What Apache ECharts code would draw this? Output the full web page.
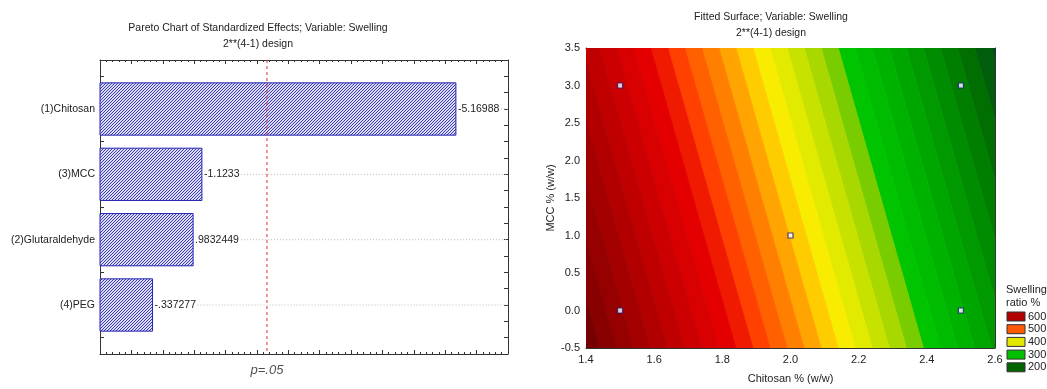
<!DOCTYPE html>
<html>
<head>
<meta charset="utf-8">
<script src="https://cdn.jsdelivr.net/npm/echarts@6/dist/echarts.min.js"></script>
<style>
html,body{margin:0;padding:0;background:#fff;}
#chart{width:1047px;height:389px;}
</style>
</head>
<body>
<div id="chart"></div>
<script>
// ---------- DATA ----------
const categories = ['(1)Chitosan', '(3)MCC', '(2)Glutaraldehyde', '(4)PEG'];
const effects = [-5.16988, -1.1233, 0.9832449, -0.337277];
const effectLabels = ['-5.16988', '-1.1233', '.9832449', '-.337277'];
const pCritical = 2.16;

const designChitosan = [1.5, 2.5, 2.0, 1.5, 2.5];
const designMCC = [3.0, 3.0, 1.0, 0.0, 0.0];
const surfaceCoefficients = [1243.5, -400, -25];
const contourLevels = [100, 120, 140, 160, 180, 200, 220, 240, 260, 280, 300, 320, 340, 360, 380, 400,
                       420, 440, 460, 480, 500, 520, 540, 560, 580, 600, 620, 640, 660, 680, 700];
const legendLevels = ['600', '500', '400', '300', '200'];

// ---------- STYLES ----------
const contourColors = ['#004c22', '#005e0c', '#006e00', '#007e00', '#008c00', '#009a00', '#00a600', '#00b200',
  '#00bc00', '#00c400', '#78cc00', '#a8d800', '#c8e200', '#e2ea00', '#f8ec00', '#ffcc00',
  '#ffa400', '#ff8000', '#ff6000', '#ff4000', '#f01a00', '#e40000', '#d80000', '#cc0000', '#c00000',
  '#b20000', '#a40000', '#960000', '#880000', '#760000'];
const legendColors = ['#b00000', '#ff5a00', '#e4e800', '#00c000', '#006400'];
const FONT = '"Liberation Sans", Arial, sans-serif';
const TXT = '#222';
const AX = '#333';

// hatch pattern
const pc = document.createElement('canvas');
pc.width = 3; pc.height = 3;
const g = pc.getContext('2d');
g.fillStyle = '#dcdcf6'; g.fillRect(0, 0, 3, 3);
g.strokeStyle = '#3a3ab6'; g.lineWidth = 1;
for (let k = -3; k <= 3; k += 3) { g.beginPath(); g.moveTo(k, 3); g.lineTo(k + 3, 0); g.stroke(); }
const hatch = { image: pc, repeat: 'repeat' };

const chart = echarts.init(document.getElementById('chart'), null, { renderer: 'canvas' });

const leftX = { min: -0.5, max: 6, interval: 0.5 };
const leftY = { min: 0.25, max: 4.75, interval: 0.25 };

function frameAxis(extra) {
  return Object.assign({
    axisLine: { show: true, onZero: false, lineStyle: { color: AX, width: 1 } },
    axisTick: { show: true, inside: true, length: 4, lineStyle: { color: AX } },
    splitLine: { show: false },
    axisLabel: { show: false }
  }, extra);
}

function S(x, y) { return surfaceCoefficients[0] + surfaceCoefficients[1] * x + surfaceCoefficients[2] * y; }
function clipPoly(poly, f) {
  const out = [];
  for (let i = 0; i < poly.length; i++) {
    const P = poly[i], Q = poly[(i + 1) % poly.length];
    const fp = f(P), fq = f(Q);
    if (fp >= 0) out.push(P);
    if ((fp >= 0) !== (fq >= 0)) {
      const t = fp / (fp - fq);
      out.push([P[0] + t * (Q[0] - P[0]), P[1] + t * (Q[1] - P[1])]);
    }
  }
  return out;
}

const option = {
  animation: false,
  backgroundColor: '#fff',
  textStyle: { fontFamily: FONT },
  grid: [
    { left: 100, top: 60, width: 408, height: 294 },
    { left: 586, top: 48, width: 409, height: 303 }
  ],
  xAxis: [
    frameAxis({ type: 'value', gridIndex: 0, position: 'bottom', min: leftX.min, max: leftX.max, interval: leftX.interval,
      minorTick: { show: true, splitNumber: 5, length: 2, lineStyle: { color: AX } } }),
    frameAxis({ type: 'value', gridIndex: 0, position: 'top', min: leftX.min, max: leftX.max, interval: leftX.interval,
      minorTick: { show: true, splitNumber: 5, length: 2, lineStyle: { color: AX } } }),
    frameAxis({ type: 'value', gridIndex: 1, position: 'bottom', min: 1.4, max: 2.6, interval: 0.2,
      axisLabel: { show: true, color: TXT, fontSize: 11, fontFamily: FONT, margin: 6, formatter: v => v.toFixed(1) },
      name: 'Chitosan % (w/w)', nameLocation: 'middle', nameGap: 25,
      nameTextStyle: { color: TXT, fontSize: 11, fontFamily: FONT } }),
    frameAxis({ type: 'value', gridIndex: 1, position: 'top', min: 1.4, max: 2.6, interval: 0.2 })
  ],
  yAxis: [
    frameAxis({ type: 'value', gridIndex: 0, position: 'left', inverse: true, min: leftY.min, max: leftY.max, interval: leftY.interval,
      axisLabel: { show: true, color: TXT, fontSize: 10.5, fontFamily: FONT, margin: 5,
        formatter: v => (Math.abs(v - Math.round(v)) < 1e-9 && v >= 1 && v <= categories.length) ? categories[Math.round(v) - 1] : '' } }),
    frameAxis({ type: 'value', gridIndex: 0, position: 'right', inverse: true, min: leftY.min, max: leftY.max, interval: leftY.interval }),
    frameAxis({ type: 'value', gridIndex: 1, position: 'left', min: -0.5, max: 3.5, interval: 0.5,
      axisLabel: { show: true, color: TXT, fontSize: 11, fontFamily: FONT, margin: 6, formatter: v => v.toFixed(1) },
      name: 'MCC % (w/w)', nameLocation: 'middle', nameGap: 30, nameRotate: 90,
      nameTextStyle: { color: TXT, fontSize: 11, fontFamily: FONT } }),
    frameAxis({ type: 'value', gridIndex: 1, position: 'right', min: -0.5, max: 3.5, interval: 0.5 })
  ],
  series: [
    {
      type: 'custom', xAxisIndex: 0, yAxisIndex: 0, z: 3,
      data: effects.map((v, i) => [Math.abs(v), i + 1, i]),
      encode: { x: 0, y: 1 },
      renderItem: function (params, api) {
        const v = api.value(0), c = api.value(1), i = api.value(2);
        const a = api.coord([leftX.min, c - 0.4]);
        const b = api.coord([v, c + 0.4]);
        const edge = api.coord([leftX.max, c]);
        const y0 = Math.min(a[1], b[1]), h = Math.abs(b[1] - a[1]);
        return {
          type: 'group',
          children: [
            { type: 'line', shape: { x1: b[0], y1: edge[1], x2: edge[0], y2: edge[1] },
              style: { stroke: '#b8b8b8', lineWidth: 1, lineDash: [1, 2] } },
            { type: 'rect', shape: { x: a[0], y: y0, width: b[0] - a[0], height: h },
              style: { fill: hatch, stroke: '#2424b0', lineWidth: 1 } },
            { type: 'text', x: b[0] + 1, y: edge[1],
              style: { text: effectLabels[i], fill: TXT, font: '10.5px ' + FONT, textAlign: 'left', textVerticalAlign: 'middle',
                backgroundColor: '#fff', padding: [0, 1, 0, 1] } }
          ]
        };
      }
    },
    {
      type: 'line', xAxisIndex: 0, yAxisIndex: 0, z: 4, symbol: 'none', silent: true,
      lineStyle: { color: '#e03030', width: 1, type: [3, 3] },
      data: [[pCritical, leftY.min], [pCritical, leftY.max]]
    },
    {
      type: 'scatter', xAxisIndex: 0, yAxisIndex: 0, z: 4, silent: true, symbolSize: 1,
      itemStyle: { color: 'rgba(0,0,0,0)' },
      label: { show: true, position: 'bottom', distance: 9, formatter: 'p=.05', fontStyle: 'italic', fontSize: 13, color: TXT, fontFamily: FONT },
      data: [[pCritical, leftY.max]]
    },
    {
      type: 'custom', xAxisIndex: 2, yAxisIndex: 2, z: 1, clip: true,
      data: contourLevels.slice(0, -1).map((lo, i) => [lo, contourLevels[i + 1], i]),
      encode: { x: -1, y: -1 },
      renderItem: function (params, api) {
        const lo = api.value(0), hi = api.value(1), i = api.value(2);
        let poly = [[1.4, -0.5], [2.6, -0.5], [2.6, 3.5], [1.4, 3.5]];
        poly = clipPoly(poly, p => S(p[0], p[1]) - lo);
        poly = clipPoly(poly, p => hi - S(p[0], p[1]));
        if (poly.length < 3) return null;
        const pts = poly.map(p => api.coord(p));
        return { type: 'polygon', shape: { points: pts },
          style: { fill: contourColors[i], stroke: contourColors[i], lineWidth: 0.8 } };
      }
    },
    {
      type: 'scatter', xAxisIndex: 2, yAxisIndex: 2, z: 5, symbol: 'rect', symbolSize: 5,
      itemStyle: { color: '#fff', borderColor: '#1c1c80', borderWidth: 1.2 },
      data: designChitosan.map((x, i) => [x, designMCC[i]])
    }
  ],
  graphic: [
    { type: 'text', x: 258, y: 28, style: { text: 'Pareto Chart of Standardized Effects; Variable: Swelling', font: '10.5px ' + FONT, fill: TXT, textAlign: 'center', textVerticalAlign: 'middle' } },
    { type: 'text', x: 258, y: 44, style: { text: '2**(4-1) design', font: '10.5px ' + FONT, fill: TXT, textAlign: 'center', textVerticalAlign: 'middle' } },
    { type: 'text', x: 771, y: 17, style: { text: 'Fitted Surface; Variable: Swelling', font: '10.5px ' + FONT, fill: TXT, textAlign: 'center', textVerticalAlign: 'middle' } },
    { type: 'text', x: 771, y: 33, style: { text: '2**(4-1) design', font: '10.5px ' + FONT, fill: TXT, textAlign: 'center', textVerticalAlign: 'middle' } },
    { type: 'text', x: 1006, y: 290, style: { text: 'Swelling', font: '11px ' + FONT, fill: TXT, textAlign: 'left', textVerticalAlign: 'middle' } },
    { type: 'text', x: 1006, y: 303, style: { text: 'ratio %', font: '11px ' + FONT, fill: TXT, textAlign: 'left', textVerticalAlign: 'middle' } }
  ].concat(legendLevels.flatMap((lab, i) => [
    { type: 'rect', shape: { x: 1007, y: 312 + i * 12.7, width: 18, height: 9 }, style: { fill: legendColors[i], stroke: '#333', lineWidth: 1 } },
    { type: 'text', x: 1028, y: 316.5 + i * 12.7, style: { text: lab, font: '11px ' + FONT, fill: TXT, textAlign: 'left', textVerticalAlign: 'middle' } }
  ]))
};
chart.setOption(option);
</script>
</body>
</html>
